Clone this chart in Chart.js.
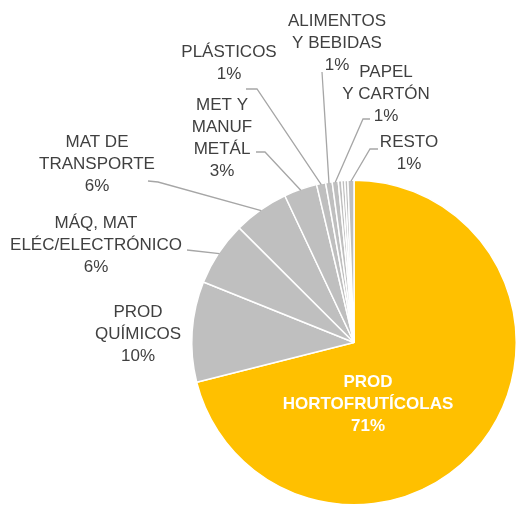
<!DOCTYPE html>
<html>
<head>
<meta charset="utf-8">
<script src="https://cdn.jsdelivr.net/npm/chart.js@4"></script>
<style>
  html, body { margin: 0; padding: 0; background: #fff; }
  #wrap { width: 517px; height: 506px; }
</style>
</head>
<body>
<div id="wrap"><canvas id="pie" width="517" height="506"></canvas></div>
<script>
// slices in drawing order (clockwise from 12 o'clock); null = thin slice without a label
const categories = [
  'PROD HORTOFRUTÍCOLAS', 'PROD QUÍMICOS', 'MÁQ, MAT ELÉC/ELECTRÓNICO', 'MAT DE TRANSPORTE',
  'MET Y MANUF METÁL', 'PLÁSTICOS', 'ALIMENTOS Y BEBIDAS', 'PAPEL Y CARTÓN',
  null, null, null, 'RESTO'
];
const shares = [71, 10, 6.4, 5.5, 3.3, 0.9, 0.65, 0.6, 0.35, 0.3, 0.3, 0.6];

// how each category name is broken over lines in the labels
const labelLines = [
  ['PROD', 'HORTOFRUTÍCOLAS'], ['PROD', 'QUÍMICOS'], ['MÁQ, MAT', 'ELÉC/ELECTRÓNICO'], ['MAT DE', 'TRANSPORTE'],
  ['MET Y', 'MANUF', 'METÁL'], ['PLÁSTICOS'], ['ALIMENTOS', 'Y BEBIDAS'], ['PAPEL', 'Y CARTÓN'],
  null, null, null, ['RESTO']
];

const YELLOW = '#FFC000';
const GREY = '#BFBFBF';
const colors = shares.map((v, i) => (i === 0 ? YELLOW : GREY));

// label placement (text centre x, first line y) and leader line start points, like the manual excel layout
const labelPos = [
  { x: 368, y: 382, inside: true },
  { x: 138, y: 312 },
  { x: 96, y: 223, lead: [[187, 250]] },
  { x: 97, y: 142, lead: [[148, 181], [158, 182]] },
  { x: 222, y: 105, lead: [[256, 152], [265, 152]] },
  { x: 229, y: 52, lead: [[246, 89], [257, 89]] },
  { x: 337, y: 21, lead: [[322, 72]] },
  { x: 386, y: 72, lead: [[370, 119], [363, 119]] },
  null, null, null,
  { x: 409, y: 142, lead: [[378, 149], [370, 149]] }
];

const total = shares.reduce((s, v) => s + v, 0);
const LINE_H = 22;

const labelPlugin = {
  id: 'pieLabels',
  afterDatasetsDraw(chart) {
    const ctx = chart.ctx;
    const arcs = chart.getDatasetMeta(0).data;
    ctx.save();
    arcs.forEach((arc, i) => {
      const pos = labelPos[i];
      if (!pos) return;
      const { x, y, startAngle, endAngle, outerRadius } = arc.getProps(['x', 'y', 'startAngle', 'endAngle', 'outerRadius'], true);
      const mid = (startAngle + endAngle) / 2;

      // leader line
      if (pos.lead) {
        ctx.strokeStyle = '#A6A6A6';
        ctx.lineWidth = 1.3;
        ctx.beginPath();
        ctx.moveTo(pos.lead[0][0], pos.lead[0][1]);
        for (let k = 1; k < pos.lead.length; k++) ctx.lineTo(pos.lead[k][0], pos.lead[k][1]);
        ctx.lineTo(x + Math.cos(mid) * (outerRadius - 1), y + Math.sin(mid) * (outerRadius - 1));
        ctx.stroke();
      }

      const pct = Math.round(shares[i] / total * 100) + '%';
      const lines = labelLines[i].concat([pct]);
      ctx.font = (pos.inside ? 'bold ' : '') + '17px "Liberation Sans", Arial, sans-serif';
      ctx.fillStyle = pos.inside ? '#FFFFFF' : '#404040';
      ctx.textAlign = 'center';
      ctx.textBaseline = 'middle';
      lines.forEach((t, k) => ctx.fillText(t, pos.x, pos.y + k * LINE_H));
    });
    ctx.restore();
  }
};

new Chart(document.getElementById('pie'), {
  type: 'pie',
  data: {
    labels: categories.map((c, i) => c || 'otros ' + i),
    datasets: [{
      data: shares,
      backgroundColor: colors,
      borderColor: '#FFFFFF',
      borderWidth: 1.5
    }]
  },
  options: {
    responsive: false,
    animation: false,
    devicePixelRatio: 1,
    layout: { padding: { left: 191, top: 179, right: 0, bottom: 0 } },
    plugins: {
      legend: { display: false },
      tooltip: { enabled: false }
    }
  },
  plugins: [labelPlugin]
});
</script>
</body>
</html>
